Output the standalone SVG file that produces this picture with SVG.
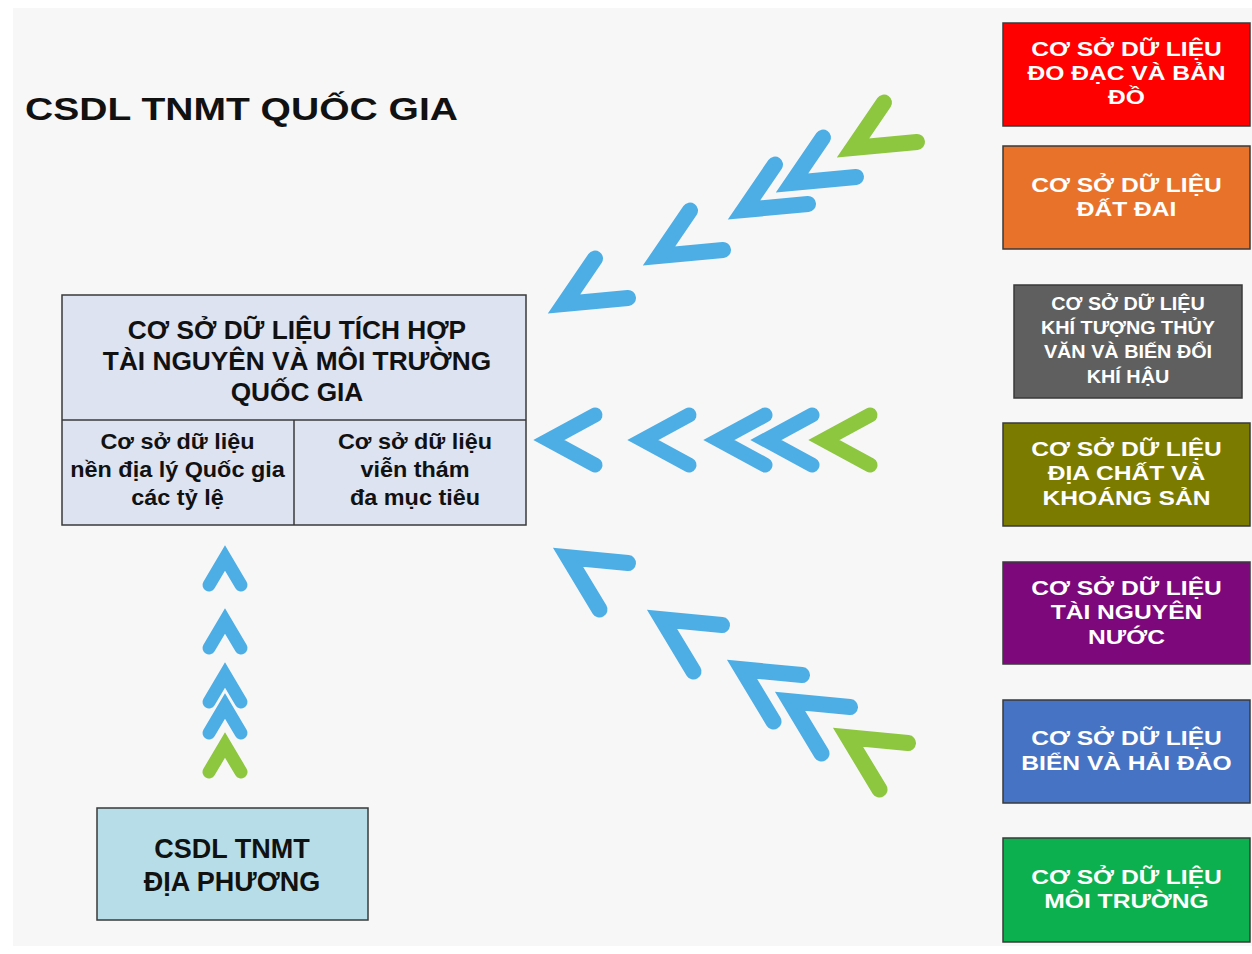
<svg xmlns="http://www.w3.org/2000/svg" xmlns:xlink="http://www.w3.org/1999/xlink" width="1252" height="954" viewBox="0 0 1252 954">
<style>
.rt{font-family:"Liberation Sans",Arial,sans-serif;font-weight:bold;font-size:20.5px;fill:#ffffff;text-anchor:middle}
.gt{font-family:"Liberation Sans",Arial,sans-serif;font-weight:bold;font-size:18px;fill:#ffffff;text-anchor:middle}
.dk{font-family:"Liberation Sans",Arial,sans-serif;font-weight:bold;fill:#111111;text-anchor:middle}
.box{stroke:#3a3a3a;stroke-width:1.5}
.blue{stroke:#4daee6}
.green{stroke:#8dc63f}
.chev{fill:none;stroke-linejoin:miter;stroke-linecap:round}
</style>
<defs>
<polyline id="chH" points="62,-25 16,0 62,25" stroke-width="15"/>
<polyline id="chV" points="-16,40 0,13 16,40" stroke-width="13"/>
<polyline id="chU" points="47,-54.5 16,-9 80,-15" stroke-width="16"/>
<polyline id="chL" points="75,15 15,9.3 46.5,61.5" stroke-width="16"/>
</defs>
<rect x="0" y="0" width="1252" height="954" fill="#ffffff"/>
<rect x="13" y="8" width="1239" height="938" fill="#f7f7f7"/>

<g id="title">
<text class="dk" style="font-size:32px;text-anchor:start" x="25" y="120" transform="matrix(1.22,0,0,1,-5.5,0)">CSDL TNMT QUỐC GIA</text>
</g>

<g id="connectors" class="chev">
<g class="blue">
<use xlink:href="#chH" x="533" y="440"/>
<use xlink:href="#chH" x="627" y="440"/>
<use xlink:href="#chH" x="703" y="440"/>
<use xlink:href="#chH" x="750" y="440"/>
<use xlink:href="#chU" x="548" y="313"/>
<use xlink:href="#chU" x="643" y="265"/>
<use xlink:href="#chU" x="728" y="219"/>
<use xlink:href="#chU" x="776" y="192"/>
<use xlink:href="#chL" x="553" y="548"/>
<use xlink:href="#chL" x="647" y="610"/>
<use xlink:href="#chL" x="727" y="660"/>
<use xlink:href="#chL" x="775" y="692"/>
<use xlink:href="#chV" x="225" y="545"/>
<use xlink:href="#chV" x="225" y="608"/>
<use xlink:href="#chV" x="225" y="662"/>
<use xlink:href="#chV" x="225" y="693"/>
</g>
<g class="green">
<use xlink:href="#chH" x="808" y="440"/>
<use xlink:href="#chU" x="837" y="157"/>
<use xlink:href="#chL" x="833" y="728"/>
<use xlink:href="#chV" x="225" y="732"/>
</g>
</g>

<g id="central">
<rect class="box" x="62" y="295" width="464" height="230" fill="#dde3f1"/>
<line x1="62" y1="420" x2="526" y2="420" stroke="#3a3a3a" stroke-width="1.5"/>
<line x1="294" y1="420" x2="294" y2="525" stroke="#3a3a3a" stroke-width="1.5"/>
<g transform="matrix(1.05,0,0,1,-14.85,0)">
<text class="dk" style="font-size:25px" x="297" y="339">CƠ SỞ DỮ LIỆU TÍCH HỢP</text>
<text class="dk" style="font-size:25px" x="297" y="370">TÀI NGUYÊN VÀ MÔI TRƯỜNG</text>
<text class="dk" style="font-size:25px" x="297" y="401">QUỐC GIA</text>
</g>
<g transform="matrix(1.04,0,0,1,-7.1,0)">
<text class="dk" style="font-size:22.5px" x="177.5" y="449">Cơ sở dữ liệu</text>
<text class="dk" style="font-size:22.5px" x="177.5" y="477">nền địa lý Quốc gia</text>
<text class="dk" style="font-size:22.5px" x="177.5" y="505">các tỷ lệ</text>
</g>
<g transform="matrix(1.04,0,0,1,-16.6,0)">
<text class="dk" style="font-size:22.5px" x="415" y="449">Cơ sở dữ liệu</text>
<text class="dk" style="font-size:22.5px" x="415" y="477">viễn thám</text>
<text class="dk" style="font-size:22.5px" x="415" y="505">đa mục tiêu</text>
</g>
</g>

<g id="local">
<rect class="box" x="97" y="808" width="271" height="112" fill="#b7dee8"/>
<text class="dk" style="font-size:27px" x="232" y="858">CSDL TNMT</text>
<text class="dk" style="font-size:27px" x="232" y="891">ĐỊA PHƯƠNG</text>
</g>

<g id="db-survey">
<rect class="box" x="1003" y="23" width="247" height="103" fill="#fe0000"/>
<g transform="matrix(1.2,0,0,1,-225.3,0)">
<text class="rt" x="1126.5" y="56">CƠ SỞ DỮ LIỆU</text>
<text class="rt" x="1126.5" y="80">ĐO ĐẠC VÀ BẢN</text>
<text class="rt" x="1126.5" y="104">ĐỒ</text>
</g>
</g>

<g id="db-land">
<rect class="box" x="1003" y="146" width="247" height="103" fill="#e9722a"/>
<g transform="matrix(1.2,0,0,1,-225.3,0)">
<text class="rt" x="1126.5" y="192">CƠ SỞ DỮ LIỆU</text>
<text class="rt" x="1126.5" y="216">ĐẤT ĐAI</text>
</g>
</g>

<g id="db-climate">
<rect class="box" x="1014" y="285" width="228" height="113" fill="#5f5f5f"/>
<g transform="matrix(1.1,0,0,1,-112.8,0)">
<text class="gt" x="1128" y="310">CƠ SỞ DỮ LIỆU</text>
<text class="gt" x="1128" y="334">KHÍ TƯỢNG THỦY</text>
<text class="gt" x="1128" y="358">VĂN VÀ BIẾN ĐỔI</text>
<text class="gt" x="1128" y="383">KHÍ HẬU</text>
</g>
</g>

<g id="db-geology">
<rect class="box" x="1003" y="423" width="247" height="103" fill="#7b7b00"/>
<g transform="matrix(1.2,0,0,1,-225.3,0)">
<text class="rt" x="1126.5" y="456">CƠ SỞ DỮ LIỆU</text>
<text class="rt" x="1126.5" y="480">ĐỊA CHẤT VÀ</text>
<text class="rt" x="1126.5" y="505">KHOÁNG SẢN</text>
</g>
</g>

<g id="db-water">
<rect class="box" x="1003" y="562" width="247" height="102" fill="#7c087c"/>
<g transform="matrix(1.2,0,0,1,-225.3,0)">
<text class="rt" x="1126.5" y="595">CƠ SỞ DỮ LIỆU</text>
<text class="rt" x="1126.5" y="619">TÀI NGUYÊN</text>
<text class="rt" x="1126.5" y="644">NƯỚC</text>
</g>
</g>

<g id="db-sea">
<rect class="box" x="1003" y="700" width="247" height="103" fill="#4673c3"/>
<g transform="matrix(1.2,0,0,1,-225.3,0)">
<text class="rt" x="1126.5" y="745">CƠ SỞ DỮ LIỆU</text>
<text class="rt" x="1126.5" y="770">BIỂN VÀ HẢI ĐẢO</text>
</g>
</g>

<g id="db-environment">
<rect class="box" x="1003" y="838" width="247" height="104" fill="#0db04f"/>
<g transform="matrix(1.2,0,0,1,-225.3,0)">
<text class="rt" x="1126.5" y="884">CƠ SỞ DỮ LIỆU</text>
<text class="rt" x="1126.5" y="908">MÔI TRƯỜNG</text>
</g>
</g>
</svg>
